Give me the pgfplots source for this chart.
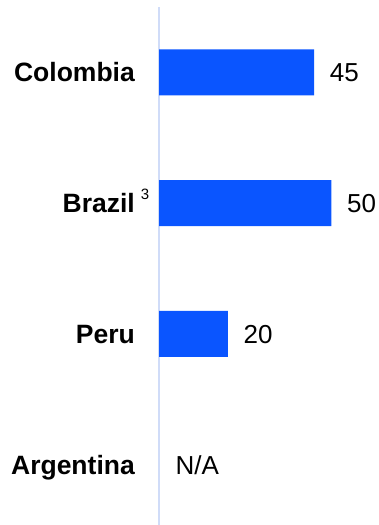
\documentclass[border=0pt]{standalone}
\usepackage{pgfplots}
\pgfplotsset{compat=1.18}
\usepackage{fontspec}
\setmainfont{Liberation Sans}
\definecolor{barblue}{RGB}{10,85,255}
\definecolor{axblue}{RGB}{208,220,248}
\begin{document}
\begin{tikzpicture}
\begin{axis}[
  at={(159bp,518bp)}, anchor=north west,
  scale only axis, width=207bp, height=518bp,
  xmin=0, xmax=60, ymin=-0.5, ymax=3.461, y dir=reverse,
  clip=false,
  hide x axis,
  axis y line*=left,
  y axis line style={draw=axblue, line width=1.6bp},
  ytick={0,1,2,3},
  yticklabels={{Colombia},{Brazil\rlap{\kern6bp\raisebox{12.7bp}{\mdseries\fontsize{15bp}{15bp}\selectfont 3}}},{Peru},{Argentina}},
  major tick length=0pt,
  yticklabel style={font=\bfseries\fontsize{26.5bp}{26.5bp}\selectfont, anchor=east, inner sep=0pt, xshift=-24bp, text height=19bp, text depth=0pt},
  every node near coord/.append style={anchor=west, inner sep=0pt, font=\fontsize{26bp}{26bp}\selectfont, text height=18.6bp, text depth=0pt, text=black},
]
\addplot[xbar, bar width=46bp, fill=barblue, draw=none,
  point meta=explicit symbolic, nodes near coords,
  nodes near coords style={xshift=15.5bp}]
  coordinates {(45,0)[45] (50,1)[50] (20,2)[20]};
\addplot[draw=none, mark=none,
  point meta=explicit symbolic, nodes near coords,
  nodes near coords style={xshift=16.5bp}]
  coordinates {(0,3)[N/A]};
\end{axis}
\pgfresetboundingbox
\useasboundingbox (0,0) rectangle (379bp,525bp);
\end{tikzpicture}
\end{document}
